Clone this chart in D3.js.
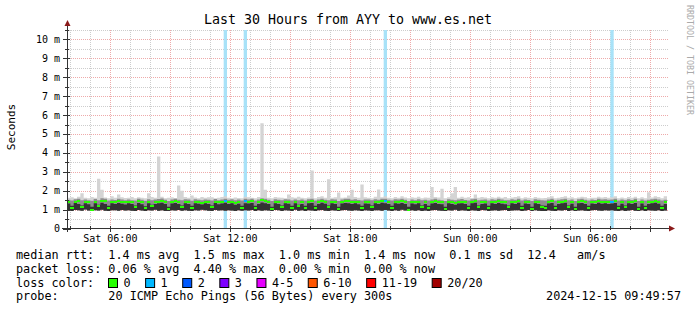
<!DOCTYPE html>
<html>
<head>
<meta charset="utf-8">
<script src="https://cdn.jsdelivr.net/npm/d3@7"></script>
<style>
body { margin: 0; background: #fff; }
text { font-family: "DejaVu Sans Mono", monospace; fill: #000; }
</style>
</head>
<body>
<svg width="697" height="310"></svg>
<script>
// 10 minute slots from Sat 03:50 to Sun 09:50 (one row = 3 hours)
var slotStart = new Date(2024, 11, 14, 3, 50);

var median = [
  1.4,1.1,1.4,1.45,1.15,1.4,1.4,1.0,1.4,1.2,1.45,1.45,1.1,1.4,1.4,1.45,1.4,1.4,
  1.4,1.4,1.15,1.45,1.4,1.1,1.4,1.2,1.4,1.4,1.45,1.4,1.05,1.4,1.45,1.4,1.15,1.4,
  1.4,1.1,1.4,1.4,1.35,1.4,1.4,1.15,1.4,1.4,1.4,1.45,1.4,1.4,1.35,1.4,1.1,1.45,
  1.4,1.45,1.1,1.4,1.5,1.45,1.4,1.05,1.4,1.4,1.15,1.4,1.4,1.1,1.4,1.2,1.4,1.1,
  1.4,1.45,1.1,1.4,1.45,1.4,1.15,1.4,1.4,1.05,1.4,1.45,1.45,1.4,1.4,1.4,1.1,1.4,
  1.4,1.15,1.4,1.4,1.45,1.45,1.4,1.1,1.4,1.4,1.45,1.4,1.0,1.4,1.4,1.4,1.15,1.4,
  1.1,1.4,1.45,1.4,1.4,1.05,1.4,1.4,1.35,1.4,1.4,1.4,1.1,1.4,1.45,1.15,1.4,1.4,
  1.1,1.4,1.4,1.45,1.4,1.4,1.15,1.4,1.4,1.45,1.1,1.4,1.4,1.05,1.4,1.4,1.15,1.1,
  1.4,1.45,1.1,1.4,1.4,1.45,1.15,1.4,1.05,1.4,1.45,1.4,1.1,1.4,1.4,1.45,1.4,1.4,
  1.4,1.4,1.45,1.1,1.4,1.15,1.4,1.4,1.45,1.05,1.4,1.1,1.4,1.4,1.45,1.4,1.1,1.4
];

var lowRtt = [
  0.95,0.93,0.98,0.96,0.94,1.0,0.95,0.92,0.97,0.95,0.99,0.94,0.93,0.97,0.96,0.94,0.98,0.95,
  0.96,0.94,0.93,0.98,0.95,0.92,0.97,0.95,0.99,0.94,0.96,0.93,0.92,0.97,0.95,0.98,0.94,0.96,
  0.94,0.93,0.97,0.95,0.99,0.96,0.94,0.93,0.98,0.95,0.96,0.94,0.97,0.95,0.93,0.96,0.94,0.97,
  0.95,0.98,0.93,0.96,0.94,0.97,0.95,0.92,0.98,0.96,0.93,0.97,0.95,0.93,0.99,0.94,0.96,0.93,
  0.97,0.95,0.93,0.96,0.98,0.94,0.93,0.97,0.95,0.92,0.96,0.98,0.95,0.94,0.97,0.95,0.93,0.96,
  0.95,0.93,0.97,0.96,0.94,0.98,0.95,0.93,0.96,0.94,0.99,0.95,0.92,0.97,0.94,0.96,0.93,0.95,
  0.93,0.96,0.98,0.95,0.94,0.92,0.97,0.95,0.99,0.94,0.96,0.95,0.93,0.97,0.95,0.93,0.98,0.96,
  0.93,0.95,0.97,0.94,0.96,0.98,0.93,0.95,0.97,0.96,0.92,0.95,0.98,0.92,0.96,0.94,0.93,0.93,
  0.96,0.94,0.93,0.97,0.95,0.98,0.93,0.96,0.92,0.95,0.97,0.94,0.93,0.96,0.98,0.95,0.94,0.97,
  0.95,0.96,0.94,0.93,0.97,0.93,0.95,0.98,0.94,0.92,0.96,0.93,0.97,0.95,0.94,0.96,0.93,0.95
];

var coreHi = [
  1.32,1.2,1.35,1.3,1.22,1.34,1.28,1.15,1.33,1.25,1.36,1.3,1.2,1.33,1.29,1.35,1.31,1.27,
  1.33,1.3,1.22,1.35,1.28,1.18,1.34,1.25,1.3,1.33,1.36,1.29,1.15,1.32,1.35,1.3,1.22,1.33,
  1.3,1.2,1.34,1.31,1.27,1.33,1.3,1.22,1.35,1.28,1.32,1.36,1.3,1.33,1.26,1.31,1.2,1.34,
  1.32,1.35,1.2,1.3,1.38,1.34,1.29,1.15,1.33,1.3,1.22,1.34,1.31,1.2,1.33,1.25,1.3,1.2,
  1.33,1.35,1.2,1.3,1.36,1.31,1.22,1.33,1.29,1.15,1.32,1.35,1.34,1.3,1.33,1.28,1.2,1.32,
  1.31,1.22,1.33,1.3,1.36,1.34,1.29,1.2,1.33,1.31,1.35,1.3,1.15,1.32,1.28,1.33,1.22,1.3,
  1.2,1.32,1.35,1.3,1.28,1.15,1.33,1.3,1.26,1.32,1.34,1.29,1.2,1.33,1.36,1.22,1.3,1.32,
  1.2,1.33,1.3,1.35,1.31,1.28,1.22,1.33,1.3,1.36,1.2,1.32,1.29,1.15,1.33,1.3,1.22,1.2,
  1.32,1.35,1.2,1.3,1.33,1.36,1.22,1.31,1.15,1.33,1.35,1.3,1.2,1.32,1.29,1.36,1.31,1.33,
  1.3,1.32,1.35,1.2,1.31,1.22,1.33,1.29,1.35,1.15,1.32,1.2,1.3,1.33,1.36,1.31,1.2,1.3
];

var upperRtt = [
  1.52,1.48,1.55,1.58,1.5,1.53,1.49,1.47,1.56,1.5,1.6,1.57,1.48,1.54,1.51,1.58,1.53,1.5,
  1.54,1.5,1.48,1.57,1.52,1.47,1.55,1.5,1.53,1.56,1.59,1.52,1.46,1.54,1.58,1.52,1.49,1.55,
  1.53,1.47,1.55,1.52,1.5,1.54,1.52,1.48,1.56,1.5,1.53,1.58,1.52,1.55,1.49,1.53,1.48,1.57,
  1.54,1.58,1.48,1.53,1.6,1.57,1.52,1.46,1.55,1.52,1.49,1.55,1.53,1.48,1.54,1.5,1.53,1.48,
  1.55,1.58,1.48,1.53,1.57,1.52,1.49,1.55,1.53,1.46,1.54,1.58,1.57,1.52,1.55,1.51,1.48,1.54,
  1.53,1.49,1.55,1.52,1.58,1.57,1.52,1.48,1.55,1.53,1.58,1.52,1.46,1.54,1.5,1.55,1.49,1.52,
  1.48,1.54,1.58,1.52,1.5,1.46,1.55,1.52,1.49,1.54,1.56,1.51,1.48,1.55,1.58,1.49,1.52,1.54,
  1.48,1.55,1.52,1.58,1.53,1.5,1.49,1.55,1.52,1.58,1.48,1.54,1.51,1.46,1.55,1.52,1.49,1.48,
  1.54,1.58,1.48,1.52,1.55,1.58,1.49,1.53,1.46,1.55,1.58,1.52,1.48,1.54,1.51,1.58,1.53,1.55,
  1.52,1.54,1.58,1.48,1.53,1.49,1.55,1.51,1.58,1.46,1.54,1.48,1.52,1.55,1.58,1.53,1.48,1.52
];

var highRtt = [
  1.62,1.65,1.6,1.68,1.87,1.63,1.6,1.66,1.62,2.63,2.05,1.64,1.6,1.7,1.62,1.8,1.65,1.61,
  1.63,1.67,1.6,1.65,1.62,1.6,1.87,1.66,1.62,3.81,1.68,1.6,1.63,1.65,1.61,2.27,2.0,1.66,
  1.62,1.75,1.64,1.6,1.67,1.62,1.65,1.65,1.6,1.63,1.66,1.7,1.62,1.6,1.64,1.61,1.6,1.68,
  1.65,1.62,1.6,1.66,5.57,2.05,1.63,1.6,1.67,1.64,1.62,1.6,1.8,1.65,1.62,1.68,1.63,1.6,
  1.64,3.07,1.6,1.66,1.7,1.62,2.6,1.63,1.65,1.9,1.62,1.64,1.75,2.05,1.66,1.62,2.33,1.65,
  1.63,1.6,1.68,2.06,1.65,1.7,1.62,1.6,1.66,1.63,1.7,1.64,1.6,1.65,1.62,1.68,1.6,1.64,
  1.62,2.19,1.66,1.64,2.1,1.6,1.65,1.87,2.19,1.62,1.68,1.63,1.65,1.61,1.8,1.62,1.66,1.64,
  1.6,1.65,1.63,1.68,1.62,1.66,1.6,1.64,1.67,1.7,1.6,1.65,1.62,1.6,1.66,1.63,1.6,1.61,
  1.65,1.7,1.6,1.63,1.66,1.7,1.62,1.65,1.6,1.64,1.68,1.65,1.6,1.63,1.62,1.68,1.64,1.66,
  1.63,1.65,1.7,1.6,1.64,1.6,1.66,1.63,1.68,1.6,1.65,1.6,1.92,1.64,1.7,1.66,1.6,1.7
];

// slots where pings were lost (count out of 20)
var lossSlots = [47, 53, 95, 163];
var lossCounts = [1, 1, 1, 1];

var lossLabels = ["0", "1", "2", "3", "4-5", "6-10", "11-19", "20/20"];
var lossColors = ["#26ff00", "#00b8ff", "#0059ff", "#7e00ff", "#e600ff", "#ff5500", "#ff0000", "#a10000"];
var lossBandColor = "#a8e2f8";

var yTicks = [0, 1, 2, 3, 4, 5, 6, 7, 8, 9, 10];
var yTickLabels = ["0", "1 m", "2 m", "3 m", "4 m", "5 m", "6 m", "7 m", "8 m", "9 m", "10 m"];

var title = "Last 30 Hours from AYY to www.es.net";
var legendRtt = "median rtt:  1.4 ms avg  1.5 ms max  1.0 ms min  1.4 ms now  0.1 ms sd  12.4   am/s";
var legendLoss = "packet loss: 0.06 % avg  4.40 % max  0.00 % min  0.00 % now";
var legendProbe = "probe:       20 ICMP Echo Pings (56 Bytes) every 300s";
var stamp = "2024-12-15 09:49:57";

var tStart = new Date(2024, 11, 14, 3, 49, 57);
var tEnd = new Date(2024, 11, 15, 9, 49, 57);

var svg = d3.select("svg");

var x = d3.scaleTime().domain([tStart, tEnd]).range([67, 667]);
var y = d3.scaleLinear().domain([0, 10.5]).range([228.5, 30]);

var px = function(v) { return Math.round(v) + 0.5; };
// keep runs of spaces in svg text
var keep = function(s) { return s.replace(/ /g, "\u00a0"); };

// rows for the step areas, with one extra point closing the last slot
var rows = median.map(function(m, i) {
  return { t: d3.timeMinute.offset(slotStart, 10 * i), med: m, lo: lowRtt[i], core: coreHi[i], up: upperRtt[i], hi: highRtt[i] };
});
var last = rows[rows.length - 1];
rows.push(Object.assign({}, last, { t: d3.timeMinute.offset(last.t, 10) }));

// grid
var hours = x.ticks(d3.timeHour.every(1));
var minorX = hours.filter(function(d) { return d.getHours() % 3 != 0; });
var majorX = hours.filter(function(d) { return d.getHours() % 3 == 0; });
var minorY = d3.range(0.5, 10.6, 1);

var grid = svg.append("g");
grid.selectAll(".gx").data(minorX).enter().append("line")
  .attr("x1", function(d) { return px(x(d)); }).attr("x2", function(d) { return px(x(d)); })
  .attr("y1", y(10.5)).attr("y2", y(0))
  .attr("stroke", "#cdcdcd").attr("stroke-dasharray", "1,1");
grid.selectAll(".gy").data(minorY).enter().append("line")
  .attr("x1", 67).attr("x2", 668)
  .attr("y1", function(d) { return px(y(d)); }).attr("y2", function(d) { return px(y(d)); })
  .attr("stroke", "#cdcdcd").attr("stroke-dasharray", "1,1");
grid.selectAll(".mx").data(majorX).enter().append("line")
  .attr("x1", function(d) { return px(x(d)); }).attr("x2", function(d) { return px(x(d)); })
  .attr("y1", y(10.5)).attr("y2", y(0))
  .attr("stroke", "#eeaaaa").attr("stroke-dasharray", "1,1");
grid.selectAll(".my").data(yTicks.slice(1)).enter().append("line")
  .attr("x1", 67).attr("x2", 668)
  .attr("y1", function(d) { return px(y(d)); }).attr("y2", function(d) { return px(y(d)); })
  .attr("stroke", "#eeaaaa").attr("stroke-dasharray", "1,1");

// loss bands, full height
svg.append("g").selectAll("rect").data(lossSlots).enter().append("rect")
  .attr("x", function(s) { return x(rows[s].t); })
  .attr("width", function(s) { return x(rows[s + 1].t) - x(rows[s].t); })
  .attr("y", y(10.5)).attr("height", y(0) - y(10.5))
  .attr("fill", lossBandColor);

// smoke
function band(top, fill) {
  var area = d3.area().curve(d3.curveStepAfter)
    .x(function(d) { return x(d.t); })
    .y0(function(d) { return y(d.lo); })
    .y1(function(d) { return y(d[top]); });
  svg.append("path").datum(rows).attr("d", area).attr("fill", fill);
}
band("hi", "#d4d4d4");
band("up", "#8e8e8e");
band("core", "#333333");

// median, one short segment per slot coloured by loss
var lossOf = {};
lossSlots.forEach(function(s, i) { lossOf[s] = lossCounts[i]; });
svg.append("g").attr("shape-rendering", "crispEdges")
  .selectAll("rect").data(median).enter().append("rect")
  .attr("x", function(m, i) { return Math.round(x(rows[i].t)); })
  .attr("width", function(m, i) { return Math.round(x(rows[i + 1].t)) - Math.round(x(rows[i].t)); })
  .attr("y", function(m) { return Math.round(y(m)) - 1; })
  .attr("height", 2)
  .attr("fill", function(m, i) { return lossColors[lossOf[i] || 0]; });

// axes
var axis = svg.append("g").attr("stroke", "#333");
axis.append("line").attr("x1", 62).attr("x2", 670).attr("y1", 228.5).attr("y2", 228.5);
axis.append("line").attr("x1", 67.5).attr("x2", 67.5).attr("y1", 232).attr("y2", 24);
axis.selectAll(".tx").data(hours).enter().append("line")
  .attr("x1", function(d) { return px(x(d)); }).attr("x2", function(d) { return px(x(d)); })
  .attr("y1", 226).attr("y2", function(d) { return d.getHours() % 3 == 0 ? 232 : 230; });
axis.selectAll(".ty").data(yTicks).enter().append("line")
  .attr("y1", function(d) { return px(y(d)); }).attr("y2", function(d) { return px(y(d)); })
  .attr("x1", 63).attr("x2", 70);
axis.selectAll(".tym").data(minorY).enter().append("line")
  .attr("y1", function(d) { return px(y(d)); }).attr("y2", function(d) { return px(y(d)); })
  .attr("x1", 65).attr("x2", 69);
svg.append("path").attr("d", "M67.5,20L64.5,26L70.5,26Z").attr("fill", "#8b1a1a");
svg.append("path").attr("d", "M675,228.5L669,225.5L669,231.5Z").attr("fill", "#8b1a1a");

svg.append("g").selectAll("text").data(yTicks).enter().append("text")
  .attr("x", 60).attr("y", function(d) { return y(d) + 3.5; })
  .attr("text-anchor", "end").attr("font-size", "10px")
  .text(function(d, i) { return keep(yTickLabels[i]); });

var fmt = d3.timeFormat("%a %H:%M");
svg.append("g").selectAll("text").data(majorX.filter(function(d) { return d.getHours() % 6 == 0; })).enter().append("text")
  .attr("x", function(d) { return x(d); }).attr("y", 241.5)
  .attr("text-anchor", "middle").attr("font-size", "10px")
  .text(function(d) { return keep(fmt(d)); });

// titles
svg.append("text").attr("x", 348).attr("y", 23.5).attr("text-anchor", "middle")
  .attr("font-size", "13.3px").text(title);
svg.append("text").attr("transform", "translate(15,127) rotate(-90)")
  .attr("text-anchor", "middle").attr("font-size", "11px").text("Seconds");
svg.append("text").attr("transform", "translate(687,5) rotate(90)")
  .attr("font-size", "8.3px").style("fill", "#aaa").text("RRDTOOL / TOBI OETIKER");

// legend
var legend = svg.append("g").attr("font-size", "11.8px");
legend.append("text").attr("x", 16).attr("y", 258.5).text(keep(legendRtt));
legend.append("text").attr("x", 16).attr("y", 272.5).text(keep(legendLoss));
legend.append("text").attr("x", 16).attr("y", 286.5).text("loss color:");
legend.append("text").attr("x", 16).attr("y", 300).text(keep(legendProbe));
legend.append("text").attr("x", 681).attr("y", 300).attr("text-anchor", "end").text(keep(stamp));

var lx = 108.5;
lossLabels.forEach(function(lab, i) {
  legend.append("rect").attr("x", lx).attr("y", 278.5).attr("width", 9).attr("height", 9)
    .attr("fill", lossColors[i]).attr("stroke", "#000");
  var t = legend.append("text").attr("x", lx + 15).attr("y", 286.5).text(lab);
  lx += 15 + t.node().getComputedTextLength() + 15;
});
</script>
</body>
</html>
